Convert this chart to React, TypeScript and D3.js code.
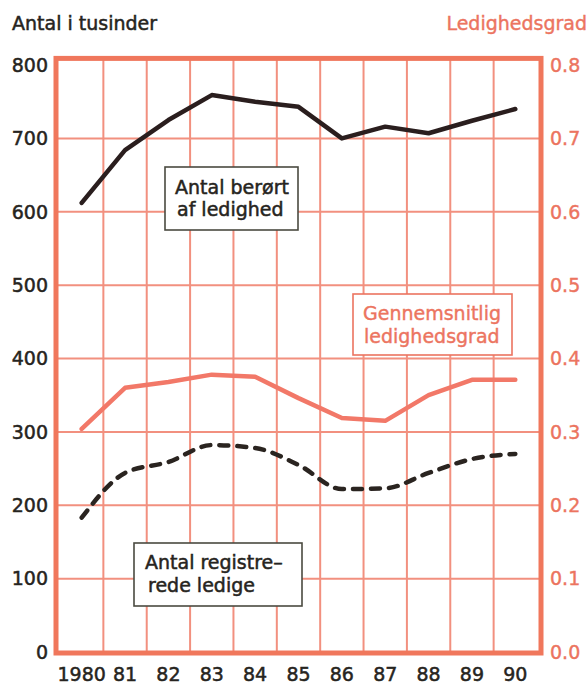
import React from "react";
import * as d3 from "d3";

const years = ["1980", "81", "82", "83", "84", "85", "86", "87", "88", "89", "90"];
const berort = [612, 684, 725, 759, 750, 743, 700, 716, 707, 724, 740];
const ledighedsgrad = [0.304, 0.36, 0.368, 0.378, 0.375, 0.346, 0.319, 0.315, 0.35, 0.371, 0.371];
const registrerede = [183, 244, 259, 282, 278, 255, 222, 223, 244, 263, 270];
const leftTicks = [0, 100, 200, 300, 400, 500, 600, 700, 800];
const rightTicks = [0, 0.1, 0.2, 0.3, 0.4, 0.5, 0.6, 0.7, 0.8];

const W = 588;
const H = 686;
const FONT = "DejaVu Sans";
const DARK = "#262420";
const SALMON = "#ec7460";
const GRID = "#f2907f";

export default function App() {
  const x = d3.scaleBand<string>().domain(years).range([60, 537]).padding(0);
  const y = d3.scaleLinear().domain([0, 800]).range([652, 65]);
  const yR = d3.scaleLinear().domain([0, 0.8]).range([652, 65]);
  const cx = (i: number) => (x(years[i]) as number) + x.bandwidth() / 2;

  const lineL = d3.line<number>().x((_, i) => cx(i)).y((d) => y(d));
  const lineR = d3.line<number>().x((_, i) => cx(i)).y((d) => yR(d));
  const lineSmooth = d3
    .line<number>()
    .x((_, i) => cx(i))
    .y((d) => y(d))
    .curve(d3.curveMonotoneX);

  const frameTop = y(809);
  const frameBottom = 653;
  const frameLeft = 56;
  const frameRight = 541;

  const textStyle = { fontFamily: FONT, fontSize: 19 } as const;

  return (
    <svg
      width={W}
      height={H}
      style={{ position: "absolute", left: 0, top: 0, background: "#fff" }}
    >
      {/* titles */}
      <text x={12} y={30} fill={DARK} stroke={DARK} strokeWidth={0.5} style={textStyle}>
        Antal i tusinder
      </text>
      <text x={587} y={30} textAnchor="end" fill={SALMON} stroke={SALMON} strokeWidth={0.4} style={textStyle}>
        Ledighedsgrad
      </text>

      {/* grid */}
      {leftTicks.slice(1, -1).map((t) => (
        <line key={"h" + t} x1={frameLeft} x2={frameRight} y1={y(t)} y2={y(t)} stroke={GRID} strokeWidth={2} />
      ))}
      {years.slice(1).map((yr) => (
        <line
          key={"v" + yr}
          x1={x(yr) as number}
          x2={x(yr) as number}
          y1={frameTop}
          y2={frameBottom}
          stroke={GRID}
          strokeWidth={2}
        />
      ))}

      {/* frame */}
      <rect
        x={frameLeft}
        y={frameTop}
        width={frameRight - frameLeft}
        height={frameBottom - frameTop}
        fill="none"
        stroke="#f0775c"
        strokeWidth={5}
      />

      {/* legend boxes */}
      <rect x={165} y={167} width={133} height={63} fill="#fff" stroke="#4a4a40" strokeWidth={1.6} />
      <text x={175} y={194} fill={DARK} stroke={DARK} strokeWidth={0.5} style={textStyle}>
        Antal berørt
      </text>
      <text x={177} y={216} fill={DARK} stroke={DARK} strokeWidth={0.5} style={textStyle}>
        af ledighed
      </text>

      <rect x={353} y={294} width={159} height={61} fill="#fff" stroke={SALMON} strokeWidth={1.6} />
      <text x={363} y={320} fill={SALMON} stroke={SALMON} strokeWidth={0.4} style={textStyle}>
        Gennemsnitlig
      </text>
      <text x={364} y={343} fill={SALMON} stroke={SALMON} strokeWidth={0.4} style={textStyle}>
        ledighedsgrad
      </text>

      <rect x={134} y={543} width={168} height={63} fill="#fff" stroke="#4a4a40" strokeWidth={1.6} />
      <text x={145} y={569} fill={DARK} stroke={DARK} strokeWidth={0.5} style={textStyle}>
        Antal registre–
      </text>
      <text x={148} y={592} fill={DARK} stroke={DARK} strokeWidth={0.5} style={textStyle}>
        rede ledige
      </text>

      {/* series */}
      <path d={lineR(ledighedsgrad) || ""} fill="none" stroke="#f27868" strokeWidth={4.5} strokeLinejoin="round" strokeLinecap="round" />
      <path
        d={lineSmooth(registrerede) || ""}
        fill="none"
        stroke="#2a2420"
        strokeWidth={4.5}
        strokeDasharray="9 9"
        strokeLinecap="round"
      />
      <path d={lineL(berort) || ""} fill="none" stroke="#2a1e1e" strokeWidth={4.5} strokeLinejoin="round" strokeLinecap="round" />

      {/* left axis labels */}
      {leftTicks.map((t) => (
        <text
          key={"l" + t}
          x={48}
          y={y(t)}
          dy="0.36em"
          textAnchor="end"
          fill={DARK}
          stroke={DARK}
          strokeWidth={0.5}
          style={textStyle}
        >
          {t}
        </text>
      ))}

      {/* right axis labels */}
      {rightTicks.map((t) => (
        <text
          key={"r" + t}
          x={550}
          y={yR(t)}
          dy="0.36em"
          fill={SALMON}
          stroke={SALMON}
          strokeWidth={0.4}
          style={textStyle}
        >
          {d3.format(".1f")(t)}
        </text>
      ))}

      {/* bottom labels */}
      {years.map((yr, i) => (
        <text
          key={"b" + yr}
          x={cx(i)}
          y={681}
          textAnchor="middle"
          fill={DARK}
          stroke={DARK}
          strokeWidth={0.5}
          style={textStyle}
        >
          {yr}
        </text>
      ))}
    </svg>
  );
}
